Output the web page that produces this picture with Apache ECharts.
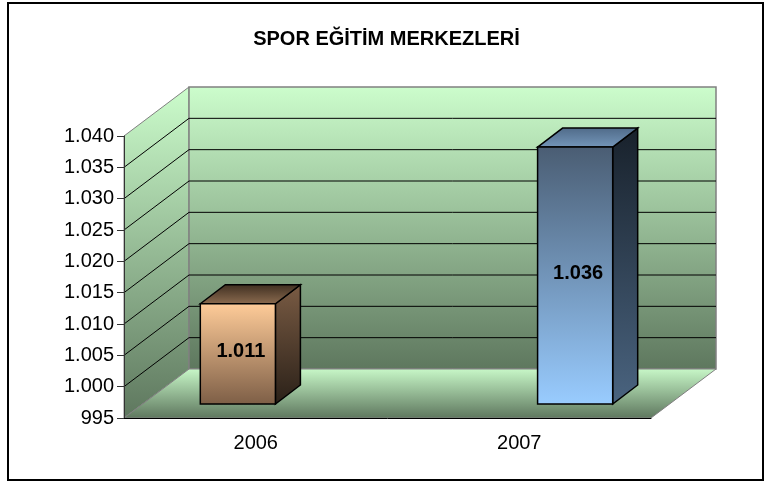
<!DOCTYPE html>
<html lang="tr">
  <head>
    <meta charset="UTF-8" />
    <title>Spor Eğitim Merkezleri</title>
    <script src="https://cdn.jsdelivr.net/npm/echarts@6/dist/echarts.min.js"></script>
    <style>
      html, body { margin: 0; padding: 0; background: #fff; }
      #chart { width: 773px; height: 486px; }
    </style>
  </head>
  <body>
    <div id="chart"></div>
    <script>
      // data
      var years = ["2006", "2007"];
      var values = [1011, 1036];
      var yTicks = [995, 1000, 1005, 1010, 1015, 1020, 1025, 1030, 1035, 1040];
      var yMin = 995, yMax = 1040, yStep = 5;

      // 3d look
      var DX = 65, DY = -49; // depth of the walls
      var BX = 19, BY = -14; // bars sit a bit behind the front plane
      var BDX = 25, BDY = -19; // bar depth
      var barFront = [
        { top: "#ffcc99", bottom: "#7d5e46", side1: "#7a5c44", side2: "#2a2018", top1: "#3e2e20", top2: "#8c6c50" },
        { top: "#4a5d73", bottom: "#99ccff", side1: "#18212b", side2: "#4a6480", top1: "#4f6a88", top2: "#7597bb" }
      ];

      function fmt(v) {
        if (v < 1000) return String(v);
        var r = String(v % 1000);
        while (r.length < 3) r = "0" + r;
        return Math.floor(v / 1000) + "." + r;
      }

      function grad(x, y, x2, y2, c1, c2) {
        return new echarts.graphic.LinearGradient(x, y, x2, y2, [
          { offset: 0, color: c1 },
          { offset: 1, color: c2 }
        ]);
      }

      function renderWalls(params, api) {
        var bl = api.coord([0, yMin]);
        var tl = api.coord([0, yMax]);
        var x0 = params.coordSys.x;
        var x1 = x0 + params.coordSys.width;
        var yb = bl[1], yt = tl[1];
        var kids = [];
        // left wall
        kids.push({
          type: "polygon",
          shape: { points: [[x0, yt], [x0 + DX, yt + DY], [x0 + DX, yb + DY], [x0, yb]] },
          style: { fill: grad(0, 0, 0, 1, "#ccfdcc", "#5e775e"), stroke: "#808080", lineWidth: 1 }
        });
        // back wall
        kids.push({
          type: "polygon",
          shape: { points: [[x0 + DX, yt + DY], [x1 + DX, yt + DY], [x1 + DX, yb + DY], [x0 + DX, yb + DY]] },
          style: { fill: grad(0, 0, 0, 1, "#ccfdcc", "#5e775e"), stroke: "#808080", lineWidth: 1.5 }
        });
        // floor
        kids.push({
          type: "polygon",
          shape: { points: [[x0, yb], [x0 + DX, yb + DY], [x1 + DX, yb + DY], [x1, yb]] },
          style: { fill: grad(0, 0, 0, 1, "#c8f8c8", "#5e775e"), stroke: "#808080", lineWidth: 1 }
        });
        yTicks.forEach(function (v) {
          if (v === yMin || v === yMax) return;
          var y = api.coord([0, v])[1];
          kids.push({
            type: "polyline",
            shape: { points: [[x0, y], [x0 + DX, y + DY], [x1 + DX, y + DY]] },
            style: { stroke: "#000", lineWidth: 1, fill: null }
          });
        });
        return { type: "group", children: kids };
      }

      function renderBar(params, api) {
        var i = api.value(0);
        var band = api.size([1, 0])[0];
        var base = api.coord([i, yMin]);
        var topP = api.coord([i, api.value(1)]);
        var w = band * 0.285;
        var cx = base[0] + (i === 0 ? -1 : 1) * band * 0.14 + BX;
        var l = cx - w / 2, r = cx + w / 2;
        var yb = base[1] + BY, yt = topP[1] + BY;
        var c = barFront[i];
        return {
          type: "group",
          children: [
            {
              type: "polygon",
              shape: { points: [[r, yt], [r + BDX, yt + BDY], [r + BDX, yb + BDY], [r, yb]] },
              style: { fill: grad(0, 0, 0, 1, c.side1, c.side2), stroke: "#000", lineWidth: 1.5 }
            },
            {
              type: "polygon",
              shape: { points: [[l, yt], [l + BDX, yt + BDY], [r + BDX, yt + BDY], [r, yt]] },
              style: { fill: grad(0, 0, 0, 1, c.top1, c.top2), stroke: "#000", lineWidth: 1.5 }
            },
            {
              type: "rect",
              shape: { x: l, y: yt, width: w, height: yb - yt },
              style: { fill: grad(0, 0, 0, 1, c.top, c.bottom), stroke: "#000", lineWidth: 1.5 }
            },
            {
              type: "text",
              style: {
                x: cx + 3, y: (yt + yb) / 2 - 2, text: fmt(api.value(1)),
                align: "center", verticalAlign: "middle",
                font: "bold 20px 'Liberation Sans', Arial, sans-serif", fill: "#000"
              }
            }
          ]
        };
      }

      var chart = echarts.init(document.getElementById("chart"));
      var option = {
        animation: false,
        backgroundColor: "#fff",
        title: {
          text: "SPOR EĞİTİM MERKEZLERİ",
          left: "center",
          top: 24,
          textStyle: { fontFamily: "Liberation Sans", fontSize: 20, fontWeight: "bold", color: "#000" }
        },
        graphic: [
          {
            type: "rect",
            shape: { x: 8, y: 3, width: 755, height: 477 },
            style: { fill: null, stroke: "#000", lineWidth: 2 },
            z: 100
          }
        ],
        grid: { left: 124, right: 122, top: 136, bottom: 68 },
        xAxis: {
          type: "category",
          data: years,
          axisLine: { lineStyle: { color: "#000", width: 1 } },
          axisTick: { length: 7, lineStyle: { color: "#333" } },
          axisLabel: { color: "#000", fontSize: 20, fontFamily: "Liberation Sans", margin: 15 },
          z: 10
        },
        yAxis: {
          type: "value",
          min: yMin,
          max: yMax,
          interval: yStep,
          axisLine: { show: true, lineStyle: { color: "#333", width: 1 } },
          axisTick: { show: true, length: 7, lineStyle: { color: "#333" } },
          axisLabel: { color: "#000", fontSize: 20, fontFamily: "Liberation Sans", margin: 10, formatter: fmt },
          splitLine: { show: false },
          z: 10
        },
        series: [
          {
            type: "custom",
            renderItem: renderWalls,
            data: [[0, yMin]],
            z: 1,
            silent: true
          },
          {
            type: "custom",
            renderItem: renderBar,
            data: years.map(function (y, i) { return [i, values[i]]; }),
            z: 5
          }
        ]
      };
      chart.setOption(option);
    </script>
  </body>
</html>
